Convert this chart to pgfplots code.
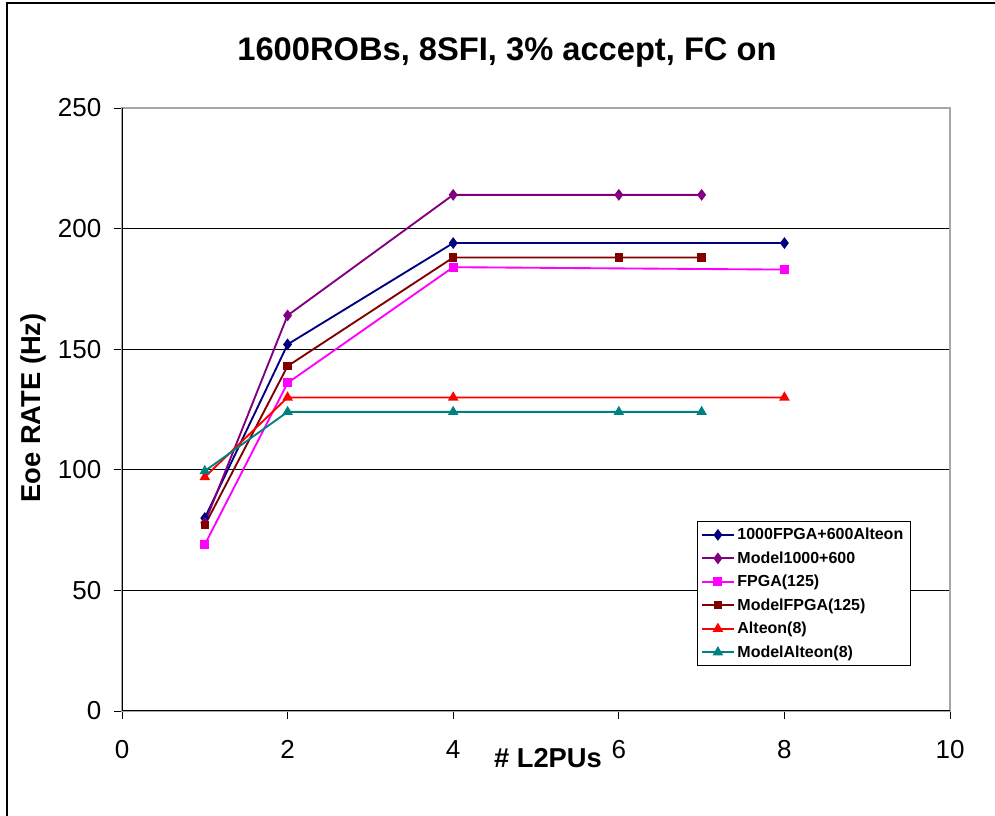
\documentclass[border=0pt]{standalone}
\usepackage{fontspec}
\setmainfont{Liberation Sans}
\usepackage{pgfplots}
\pgfplotsset{compat=1.18}
\definecolor{cnavy}{RGB}{0,0,128}
\definecolor{cpurple}{RGB}{128,0,128}
\definecolor{cmag}{RGB}{255,0,255}
\definecolor{cmaroon}{RGB}{128,0,0}
\definecolor{cred}{RGB}{255,0,0}
\definecolor{cteal}{RGB}{0,128,128}
\begin{document}
\begin{tikzpicture}[x=0.75pt,y=0.75pt]
\useasboundingbox (0,0) rectangle (995,816);
\draw[line width=1.5pt] (7,-20) -- (7,813) -- (1020,813);
\begin{axis}[
  at={(91.5pt,78.75pt)}, anchor=south west,
  scale only axis, width=621pt, height=452.25pt,
  xmin=0, xmax=10, ymin=0, ymax=250,
  xtick={0,2,4,6,8,10}, ytick={0,50,100,150,200,250},
  ymajorgrids, grid style={black, line width=0.7pt},
  axis line style={gray!70, line width=0.9pt},
  tick align=outside, xtick pos=bottom, ytick pos=left,
  major tick length=6pt, tick style={black, line width=0.6pt},
  ticklabel style={font=\fontsize{19.5}{20}\selectfont},
  xticklabel style={yshift=-12.5pt},
  yticklabel style={xshift=-6pt},
  /pgf/number format/assume math mode=true,
  legend style={at={(0.694,0.315)}, anchor=north west, draw=black, line width=0.6pt,
    font=\bfseries\fontsize{12}{14}\selectfont, row sep=3.4pt, inner sep=3pt},
  legend cell align=left,
  legend image code/.code={\draw[mark repeat=2,mark phase=2] plot coordinates {(0cm,0cm)(0.42cm,0cm)(0.84cm,0cm)};},
  every axis plot/.append style={line width=1.4pt},
]
\draw[black, line width=0.9pt] (rel axis cs:0,1) -- (rel axis cs:0,0) -- (rel axis cs:1,0);
\addplot[cnavy, mark=diamond*, mark size=3.3pt] coordinates {(1,80) (2,152) (4,194) (8,194)};
\addlegendentry{1000FPGA+600Alteon}
\addplot[cpurple, mark=diamond*, mark size=3.3pt] coordinates {(1,78) (2,164) (4,214) (6,214) (7,214)};
\addlegendentry{Model1000+600}
\addplot[cmag, mark=square*, mark size=2.7pt] coordinates {(1,69) (2,136) (4,184) (8,183)};
\addlegendentry{FPGA(125)}
\addplot[cmaroon, mark=square*, mark size=2.4pt] coordinates {(1,77) (2,143) (4,188) (6,188) (7,188)};
\addlegendentry{ModelFPGA(125)}
\addplot[cred, mark=triangle*, mark size=3.2pt] coordinates {(1,97) (2,130) (4,130) (8,130)};
\addlegendentry{Alteon(8)}
\addplot[cteal, mark=triangle*, mark size=3.2pt] coordinates {(1,99.5) (2,124) (4,124) (6,124) (7,124)};
\addlegendentry{ModelAlteon(8)}
\end{axis}
\node[font=\bfseries\fontsize{24.5}{28}\selectfont] at (507,764) {1600ROBs, 8SFI, 3\% accept, FC on};
\node[font=\bfseries\fontsize{20.5}{24}\selectfont, rotate=90] at (33,408) {Eoe RATE (Hz)};
\node[font=\bfseries\fontsize{20.5}{24}\selectfont] at (548,58) {\# L2PUs};
\end{tikzpicture}
\end{document}
